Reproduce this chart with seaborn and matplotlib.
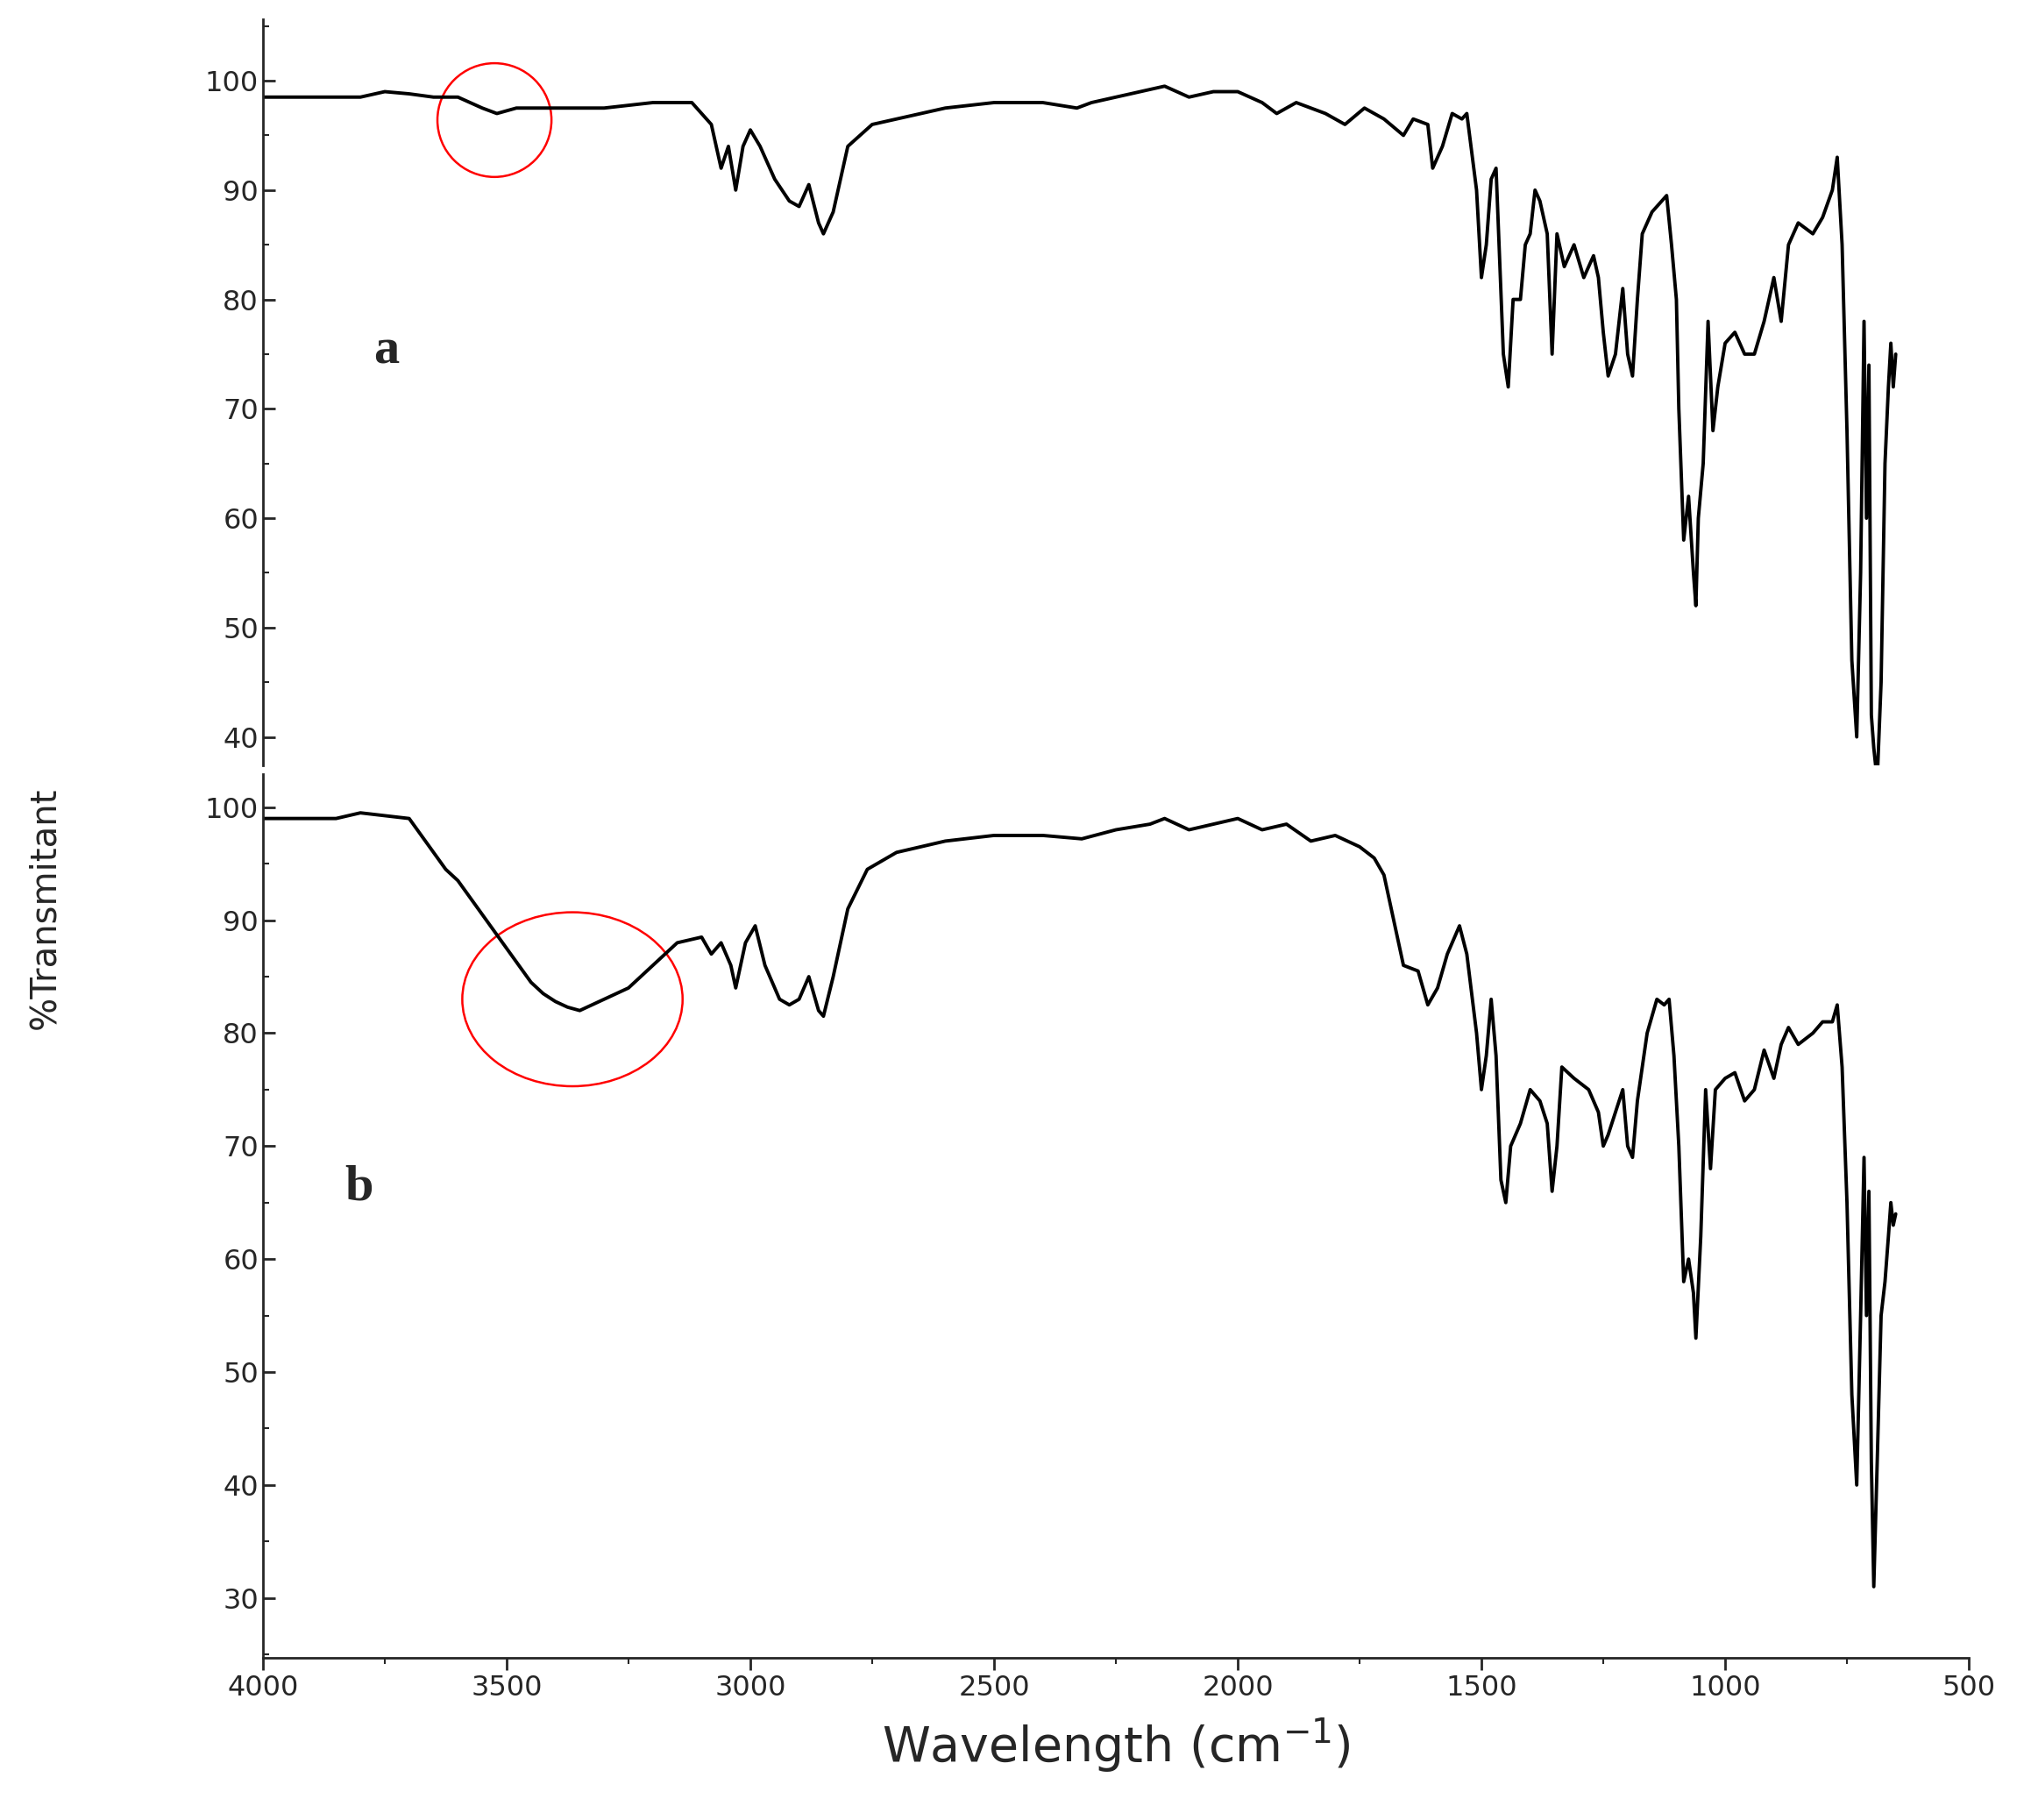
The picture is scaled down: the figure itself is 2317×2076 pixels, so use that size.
import matplotlib
matplotlib.use("Agg")
import matplotlib.pyplot as plt
import seaborn as sns
import pandas as pd
from matplotlib.patches import Ellipse
from matplotlib.ticker import MultipleLocator

sns.set_style("ticks")
plt.rcParams['font.family'] = ['DejaVu Sans']

wn_a = [4000,3800,3750,3700,3650,3600,3550,3520,3480,3400,3300,3200,3120,3080,3060,3045,3030,3015,3000,2980,2950,2920,2900,2880,2860,2850,2830,2800,2750,2700,2600,2500,2400,2330,2300,2200,2150,2100,2050,2000,1950,1920,1880,1820,1780,1740,1700,1660,1640,1610,1600,1580,1560,1540,1530,1510,1500,1490,1480,1470,1455,1445,1435,1420,1410,1400,1390,1380,1365,1355,1345,1330,1310,1290,1270,1260,1250,1240,1225,1210,1200,1190,1180,1170,1150,1130,1120,1110,1100,1095,1085,1075,1065,1060,1055,1045,1035,1025,1015,1000,980,960,940,920,900,885,870,850,820,800,780,770,760,750,740,730,722,715,710,705,700,695,688,680,672,665,660,655,650]
tr_a = [98.5,98.5,99,98.8,98.5,98.5,97.5,97,97.5,97.5,97.5,98,98,96,92,94,90,94,95.5,94,91,89,88.5,90.5,87,86,88,94,96,96.5,97.5,98,98,97.5,98,99,99.5,98.5,99,99,98,97,98,97,96,97.5,96.5,95,96.5,96,92,94,97,96.5,97,90,82,85,91,92,75,72,80,80,85,86,90,89,86,75,86,83,85,82,84,82,77,73,75,81,75,73,80,86,88,89,89.5,85,80,70,58,62,55,52,60,65,78,68,72,76,77,75,75,78,82,78,85,87,86,87.5,90,93,85,68,47,40,55,78,60,74,42,39,36,45,65,72,76,72,75]

wn_b = [4000,3850,3800,3700,3675,3650,3625,3600,3575,3550,3525,3500,3475,3450,3425,3400,3375,3350,3300,3250,3200,3150,3100,3080,3060,3040,3030,3010,2990,2970,2940,2920,2900,2880,2860,2850,2830,2800,2760,2700,2600,2500,2400,2320,2250,2180,2150,2100,2050,2000,1950,1900,1850,1800,1750,1720,1700,1680,1660,1630,1610,1590,1570,1545,1530,1510,1500,1490,1480,1470,1460,1450,1440,1420,1400,1380,1365,1355,1345,1335,1310,1280,1260,1250,1240,1225,1210,1200,1190,1180,1160,1140,1125,1115,1105,1095,1085,1075,1065,1060,1050,1040,1030,1020,1000,980,960,940,920,900,885,870,850,820,800,780,770,760,750,740,730,722,715,710,705,700,695,688,680,672,665,660,655,650]
tr_b = [99,99,99.5,99,97.5,96,94.5,93.5,92,90.5,89,87.5,86,84.5,83.5,82.8,82.3,82,83,84,86,88,88.5,87,88,86,84,88,89.5,86,83,82.5,83,85,82,81.5,85,91,94.5,96,97,97.5,97.5,97.2,98,98.5,99,98,98.5,99,98,98.5,97,97.5,96.5,95.5,94,90,86,85.5,82.5,84,87,89.5,87,80,75,78,83,78,67,65,70,72,75,74,72,66,70,77,76,75,73,70,71,73,75,70,69,74,80,83,82.5,83,78,70,58,60,57,53,62,75,68,75,76,76.5,74,75,78.5,76,79,80.5,79,80,81,81,82.5,77,65,48,40,55,69,55,66,42,31,42,55,58,62,65,63,64]

W, H = 1568, 1403
fig = plt.figure(figsize=(23.17, 20.76), dpi=100)
L = 203 / W; R = 1520 / W
ax1 = fig.add_axes([L, 1 - 590 / H, R - L, (590 - 15) / H])
ax2 = fig.add_axes([L, 1 - 1278 / H, R - L, (1278 - 597) / H])

lw = 2.8
sns.lineplot(data=pd.DataFrame({"x": wn_a, "y": tr_a}), x="x", y="y", sort=False, ax=ax1, color="black", lw=lw)
sns.lineplot(data=pd.DataFrame({"x": wn_b, "y": tr_b}), x="x", y="y", sort=False, ax=ax2, color="black", lw=lw)

ax1.set_ylim(37.4, 105.6)
ax2.set_ylim(24.7, 102.9)
for ax in (ax1, ax2):
    ax.set_xlim(4000, 500)
    ax.set_xlabel(""); ax.set_ylabel("")
    ax.yaxis.set_major_locator(MultipleLocator(10))
    ax.yaxis.set_minor_locator(MultipleLocator(5))
    ax.tick_params(axis='y', which='major', labelsize=23, length=10, width=2, direction='in')
    ax.tick_params(axis='y', which='minor', length=5, width=1.5, direction='in')
    for s in ax.spines.values():
        s.set_linewidth(2)
    ax.spines['top'].set_visible(False)
    ax.spines['right'].set_visible(False)
    ax.patch.set_alpha(0)

ax1.spines['bottom'].set_visible(False)
ax1.set_xticks([])
ax2.xaxis.set_major_locator(MultipleLocator(500))
ax2.xaxis.set_minor_locator(MultipleLocator(250))
ax2.tick_params(axis='x', which='major', labelsize=23, length=10, width=2, direction='out')
ax2.tick_params(axis='x', which='minor', length=5, width=1.5, direction='out')
ax2.set_xlabel("Wavelength (cm$^{-1}$)", fontsize=40, labelpad=12)

ax1.add_patch(Ellipse((3525, 96.4), 234, 10.4, fill=False, ec="red", lw=1.8))
ax2.add_patch(Ellipse((3365, 83), 452, 15.4, fill=False, ec="red", lw=1.8))

ax1.text(3747, 75.3, "a", fontsize=42, fontweight="bold", family="Liberation Serif", ha="center", va="center")
ax2.text(3803, 66.3, "b", fontsize=42, fontweight="bold", family="Liberation Serif", ha="center", va="center")

fig.text(35 / W, 1 - 700 / H, "%Transmitant", rotation=90, fontsize=29, ha="center", va="center")

fig.savefig("out.png", dpi=100)
